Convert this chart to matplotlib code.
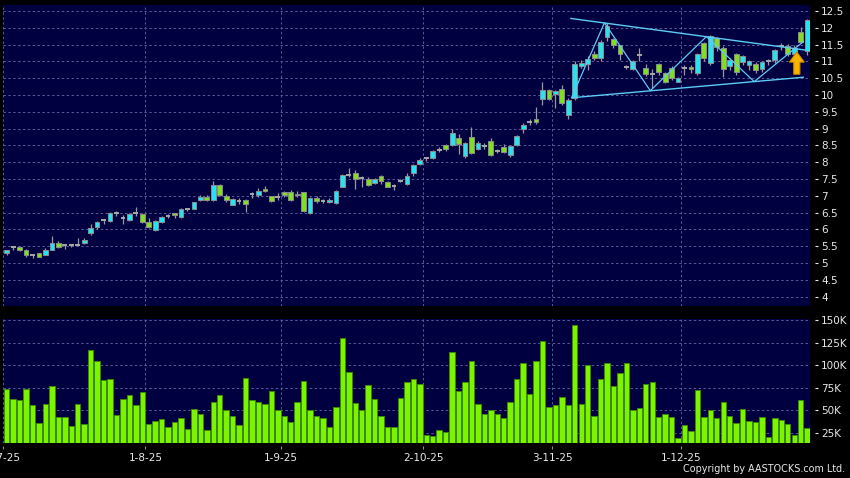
import numpy as np
import matplotlib.pyplot as plt
from matplotlib.patches import FancyArrow

# daily candles, one per trading day from 2-7-25
opens = [5.30, 5.47, 5.48, 5.39, 5.23, 5.30, 5.24, 5.40, 5.60, 5.53,
         5.53, 5.55, 5.59, 5.89, 6.07, 6.27, 6.24, 6.48, 6.35, 6.27,
         6.49, 6.46, 6.23, 5.97, 6.23, 6.40, 6.48, 6.37, 6.60, 6.62,
         6.88, 6.98, 6.87, 7.32, 6.99, 6.74, 6.86, 6.87, 7.04, 7.01,
         7.20, 6.99, 6.98, 7.11, 7.12, 7.02, 7.10, 6.48, 6.94, 6.86,
         6.83, 6.78, 7.27, 7.61, 7.68, 7.53, 7.50, 7.38, 7.59, 7.41,
         7.29, 7.44, 7.35, 7.68, 7.95, 8.12, 8.13, 8.36, 8.50, 8.50,
         8.72, 8.18, 8.74, 8.39, 8.49, 8.62, 8.33, 8.46, 8.23, 8.50,
         8.98, 9.21, 9.28, 9.87, 10.14, 10.03, 10.17, 9.40, 9.90, 10.87,
         10.92, 11.22, 11.10, 11.72, 11.66, 11.48, 10.83, 10.79, 11.18, 10.80,
         10.62, 10.92, 10.67, 10.82, 10.40, 10.80, 10.83, 10.65, 11.54, 10.95,
         11.69, 11.41, 10.85, 11.22, 10.97, 10.90, 10.92, 10.77, 11.00, 11.05,
         11.45, 11.46, 11.22, 11.89, 11.30]
highs = [5.40, 5.52, 5.50, 5.41, 5.25, 5.31, 5.45, 5.79, 5.65, 5.57,
         5.58, 5.73, 5.75, 6.15, 6.26, 6.30, 6.52, 6.56, 6.44, 6.50,
         6.67, 6.48, 6.33, 6.28, 6.40, 6.45, 6.50, 6.63, 6.65, 6.82,
         7.03, 7.02, 7.44, 7.34, 7.05, 6.95, 6.95, 6.90, 7.12, 7.22,
         7.28, 7.00, 7.08, 7.14, 7.18, 7.15, 7.12, 6.98, 7.00, 6.92,
         6.95, 7.18, 7.66, 7.82, 7.78, 7.58, 7.55, 7.54, 7.62, 7.43,
         7.36, 7.50, 7.68, 7.95, 8.12, 8.15, 8.35, 8.45, 8.55, 8.99,
         8.85, 8.60, 9.05, 8.62, 8.58, 8.72, 8.38, 8.55, 8.52, 8.82,
         9.18, 9.30, 9.65, 10.40, 10.17, 10.15, 10.30, 9.90, 11.00, 11.05,
         11.15, 11.30, 11.65, 12.14, 11.70, 11.50, 10.90, 11.05, 11.40, 10.92,
         10.78, 10.95, 10.70, 10.85, 10.55, 10.90, 10.90, 11.25, 11.58, 11.78,
         11.72, 11.45, 11.10, 11.25, 11.20, 11.05, 10.98, 11.02, 11.08, 11.38,
         11.55, 11.52, 11.48, 12.02, 12.25]
lows = [5.24, 5.38, 5.36, 5.18, 5.15, 5.18, 5.23, 5.39, 5.45, 5.42,
        5.48, 5.53, 5.58, 5.83, 6.00, 6.15, 6.22, 6.40, 6.15, 6.25,
        6.40, 6.18, 6.04, 5.96, 6.18, 6.33, 6.33, 6.35, 6.55, 6.60,
        6.86, 6.85, 6.85, 7.00, 6.83, 6.72, 6.75, 6.53, 6.95, 6.98,
        7.10, 6.82, 6.88, 6.98, 6.85, 6.98, 6.53, 6.46, 6.80, 6.79,
        6.80, 6.75, 7.25, 7.55, 7.20, 7.25, 7.28, 7.35, 7.35, 7.25,
        7.16, 7.40, 7.33, 7.60, 7.93, 8.05, 8.10, 8.30, 8.33, 8.48,
        8.25, 8.13, 8.25, 8.35, 8.40, 8.18, 8.28, 8.27, 8.15, 8.48,
        8.88, 9.10, 9.15, 9.70, 9.85, 9.60, 9.70, 9.30, 9.85, 10.80,
        10.75, 11.05, 11.00, 11.60, 11.40, 11.05, 10.78, 10.75, 11.00, 10.58,
        10.20, 10.60, 10.35, 10.45, 10.38, 10.60, 10.65, 10.60, 11.00, 10.90,
        11.30, 10.55, 10.75, 10.60, 10.90, 10.75, 10.65, 10.70, 10.90, 10.95,
        11.35, 11.15, 11.18, 11.55, 11.20]
closes = [5.40, 5.47, 5.38, 5.23, 5.23, 5.19, 5.40, 5.60, 5.47, 5.53,
          5.53, 5.55, 5.70, 6.05, 6.23, 6.27, 6.49, 6.48, 6.35, 6.46,
          6.49, 6.21, 6.06, 6.26, 6.37, 6.40, 6.43, 6.60, 6.60, 6.81,
          6.98, 6.88, 7.32, 7.02, 6.89, 6.90, 6.86, 6.77, 7.04, 7.14,
          7.14, 6.84, 6.98, 7.01, 6.89, 7.05, 6.55, 6.95, 6.84, 6.86,
          6.89, 7.13, 7.62, 7.61, 7.50, 7.53, 7.33, 7.50, 7.44, 7.27,
          7.29, 7.44, 7.58, 7.93, 8.08, 8.12, 8.33, 8.36, 8.39, 8.87,
          8.54, 8.57, 8.28, 8.56, 8.49, 8.21, 8.33, 8.29, 8.49, 8.77,
          9.10, 9.21, 9.19, 10.14, 9.87, 10.11, 9.77, 9.85, 10.93, 10.95,
          11.07, 11.10, 11.59, 12.06, 11.49, 11.22, 10.83, 11.00, 11.18, 10.63,
          10.62, 10.68, 10.40, 10.50, 10.50, 10.80, 10.77, 11.22, 11.10, 11.76,
          11.44, 10.77, 11.03, 10.70, 11.15, 11.00, 10.75, 10.98, 11.00, 11.35,
          11.45, 11.22, 11.41, 11.59, 12.22]
volume_k = [73.4, 62.7, 62.0, 74.1, 55.7, 35.9, 57.2, 77.1, 42.5, 43.2,
            32.5, 57.6, 34.4, 117.2, 104.7, 84.1, 84.8, 45.4, 62.7, 67.2,
            55.7, 70.8, 35.5, 38.4, 40.3, 31.4, 37.3, 41.4, 29.6, 51.7,
            46.5, 28.5, 59.4, 67.2, 50.2, 44.3, 33.3, 86.3, 62.0, 59.4,
            57.2, 71.6, 49.9, 43.6, 37.7, 59.4, 82.2, 50.6, 43.6, 41.8,
            31.4, 53.5, 129.7, 92.6, 58.3, 49.9, 78.2, 62.7, 44.0, 31.8,
            31.8, 63.8, 81.5, 84.5, 78.9, 23.3, 21.5, 28.1, 25.9, 114.7,
            71.9, 81.9, 105.1, 56.8, 46.5, 50.6, 46.2, 41.8, 59.4, 84.5,
            102.1, 68.6, 104.3, 126.4, 53.9, 55.7, 64.6, 55.7, 144.5, 56.8,
            100.7, 44.0, 84.5, 102.1, 77.1, 91.8, 102.9, 50.6, 52.8, 78.9,
            81.1, 43.2, 45.8, 42.5, 19.7, 33.7, 27.0, 72.7, 42.5, 49.9,
            42.1, 59.1, 43.6, 35.9, 51.7, 38.4, 37.0, 42.5, 20.8, 41.4,
            39.5, 35.5, 23.3, 62.0, 30.0]

date_labels = ['2-7-25', '1-8-25', '1-9-25', '2-10-25', '3-11-25', '1-12-25']
date_bars = [0, 22, 43, 65, 85, 105]

price_ticks = [4, 4.5, 5, 5.5, 6, 6.5, 7, 7.5, 8, 8.5, 9, 9.5, 10, 10.5,
               11, 11.5, 12, 12.5]
vol_ticks_k = [25, 50, 75, 100, 125, 150]

# triangle drawn on the chart: (bar index, price)
upper_x, upper_y = [87.4, 123.7], [12.28, 11.34]
lower_x, lower_y = [87.6, 123.4], [9.92, 10.53]
zig_x = [87.5, 92.6, 99.7, 108.4, 115.8, 123.4]
zig_y = [9.92, 12.15, 10.13, 11.74, 10.40, 11.59]
arrow_bar, arrow_from, arrow_to = 122.4, 10.62, 11.28

BG = '#000040'
GRID = '#5a5a96'
TXT = '#e8e8e8'
UP = '#22e4f4'
DOWN = '#80e020'
FLAT = '#a8a8a8'

o = np.array(opens); h = np.array(highs); l = np.array(lows); c = np.array(closes)
x = np.arange(len(o))
tick_pos = [b - 0.5 for b in date_bars]

fig = plt.figure(figsize=(8.5, 4.78), dpi=100, facecolor='black')
ax = fig.add_axes([0.0041, 0.3598, 0.9489, 0.6297])
axv = fig.add_axes([0.0041, 0.0726, 0.9489, 0.2600])

for a in (ax, axv):
    a.set_facecolor(BG)
    a.set_xlim(-0.5, 124.45)
    for s in a.spines.values():
        s.set_visible(False)
    a.spines['right'].set_position(('outward', 3.6))
    a.spines['bottom'].set_position(('outward', 2.2))
    a.yaxis.tick_right()
    a.tick_params(axis='y', colors=TXT, length=2.2, width=0.8, pad=2.2,
                  labelsize=7.5)
    a.tick_params(axis='x', colors='#909090', length=2.5, width=0.8,
                  labelsize=7.5, labelcolor=TXT, pad=2)
    a.set_xticks(tick_pos)
    a.grid(True, color=GRID, linestyle=(0, (2.5, 2.5)), linewidth=0.7)
    a.set_axisbelow(True)

# price panel
ax.set_ylim(3.72, 12.68)
ax.set_yticks(price_ticks)
ax.set_yticklabels(['%g' % p for p in price_ticks])
ax.tick_params(axis='x', length=0, labelbottom=False)

ax.vlines(x, l, h, color='#9a9a9a', linewidth=0.9, zorder=2)
w = 0.74
up = c > o
dn = c < o
fl = c == o
ax.bar(x[up], (c - o)[up], bottom=o[up], width=w, color=UP,
       edgecolor='#8c8c8c', linewidth=0.7, zorder=3)
ax.bar(x[dn], (o - c)[dn], bottom=c[dn], width=w, color=DOWN,
       edgecolor='#8c8c8c', linewidth=0.7, zorder=3)
ax.hlines(c[fl], x[fl] - w / 2, x[fl] + w / 2, color=FLAT, linewidth=1.4,
          zorder=3)

tri = '#5ccbf5'
ax.plot(upper_x, upper_y, color=tri, linewidth=1.0, zorder=4)
ax.plot(lower_x, lower_y, color=tri, linewidth=1.0, zorder=4)
ax.plot(zig_x, zig_y, color=tri, linewidth=0.9, zorder=4)
ax.add_patch(FancyArrow(arrow_bar, arrow_from, 0, arrow_to - arrow_from,
                        width=0.95, head_width=2.3, head_length=0.3,
                        length_includes_head=True, facecolor='#f7b500',
                        edgecolor='#d08a00', linewidth=0.8, zorder=5))

# volume panel
vol = np.array(volume_k) * 1000
axv.set_ylim(13600, 151100)
axv.set_yticks([v * 1000 for v in vol_ticks_k])
axv.set_yticklabels(['%dK' % v for v in vol_ticks_k])
axv.bar(x, vol, width=0.84, color='#7cf400', edgecolor='#3a8a00',
        linewidth=0.7, zorder=3)
axv.set_xticklabels(date_labels)

fig.text(0.994, 0.008, 'Copyright by AASTOCKS.com Ltd.', color=TXT,
         fontsize=6.9, ha='right', va='bottom')

fig.savefig('out.png', dpi=100, facecolor='black')
